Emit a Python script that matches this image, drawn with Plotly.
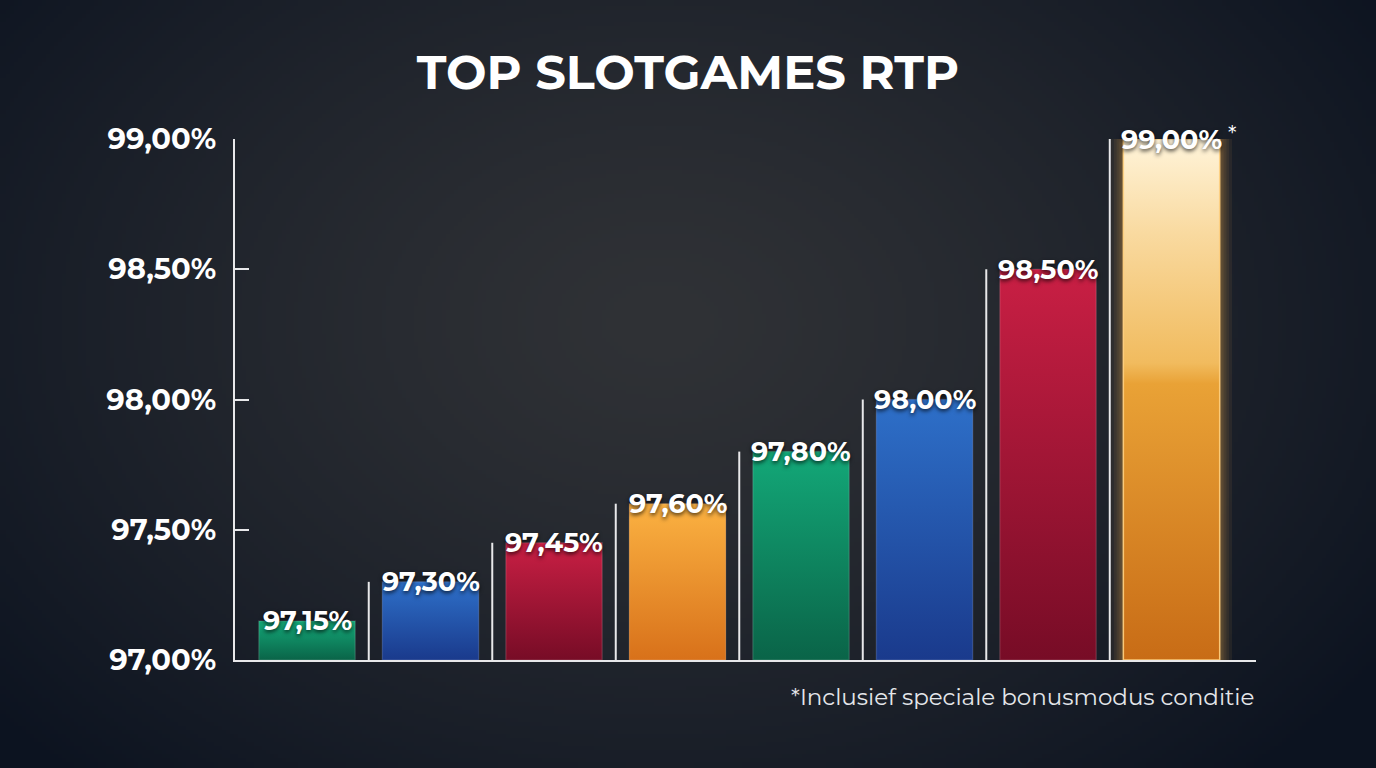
import base64, struct, zlib
import numpy as np
import plotly.graph_objects as go

# ---------------- data ----------------
games = ["Slot 1", "Slot 2", "Slot 3", "Slot 4", "Slot 5", "Slot 6", "Slot 7", "Slot 8"]
rtp = [97.15, 97.30, 97.45, 97.60, 97.80, 98.00, 98.50, 99.00]
top_colors = ["#14a878", "#2e70c9", "#c91f44", "#fbb242", "#13a878", "#2e70c9", "#c91f44", "#fff4da"]
bottom_colors = ["#0a6448", "#1a3a8c", "#770c26", "#d8711a", "#0a6448", "#1a3a8c", "#770c26", "#c86c16"]
y_ticks = [97.0, 97.5, 98.0, 98.5, 99.0]
title = "TOP SLOTGAMES RTP"
footnote = "*Inclusief speciale bonusmodus conditie"
star_index = 7

# ---------------- layout constants ----------------
W, H = 1376, 768
ML, MR, MT, MB = 235, 120, 139, 108
PW, PH = W - ML - MR, H - MT - MB
BAR_W = 0.78
BASE = 97.0
FONT_BOLD = "Montserrat, 'Open Sans', sans-serif"


def pct(v):
    return f"{v:.2f}".replace(".", ",") + "%"


def png_uri(arr):
    h, w, _ = arr.shape
    raw = b"".join(b"\x00" + arr[r].tobytes() for r in range(h))

    def chunk(tag, data):
        c = struct.pack(">I", len(data)) + tag + data
        return c + struct.pack(">I", zlib.crc32(tag + data) & 0xFFFFFFFF)

    png = b"\x89PNG\r\n\x1a\n" + chunk(b"IHDR", struct.pack(">IIBBBBB", w, h, 8, 2, 0, 0, 0))
    png += chunk(b"IDAT", zlib.compress(raw, 9)) + chunk(b"IEND", b"")
    return "data:image/png;base64," + base64.b64encode(png).decode()


# radial background
gw, gh = 344, 192
xx, yy = np.meshgrid(np.linspace(0, 1, gw), np.linspace(0, 1, gh))
d = np.sqrt(((xx - 0.48) / 0.64) ** 2 + ((yy - 0.42) / 0.82) ** 2)
t = np.clip(d, 0, 1) ** 1.3
center = np.array([48, 50, 54], float)
edge = np.array([12, 19, 32], float)
bg = (center[None, None, :] * (1 - t[..., None]) + edge[None, None, :] * t[..., None]).astype(np.uint8)
bg_uri = png_uri(bg)

fig = go.Figure()

xs = list(range(len(rtp)))

# base bars (solid colour underneath the gradient overlay)
fig.add_trace(go.Bar(x=xs, y=[v - BASE for v in rtp], base=BASE, width=BAR_W,
                     marker=dict(color=bottom_colors, line=dict(width=0)),
                     hoverinfo="skip", showlegend=False))

# glow around the highlighted bar
for pad in [0.10, 0.075, 0.055, 0.038, 0.024, 0.012]:
    i = star_index
    x0, x1 = i - BAR_W / 2 - pad, i + BAR_W / 2 + pad
    y1 = rtp[i] + pad * 0.25
    fig.add_trace(go.Scatter(x=[x0, x1, x1, x0, x0], y=[BASE, BASE, y1, y1, BASE],
                             mode="lines", fill="toself", line=dict(width=0),
                             fillcolor="rgba(255,190,90,0.07)", hoverinfo="skip",
                             showlegend=False))

# gradient overlays
for i, v in enumerate(rtp):
    x0, x1 = i - BAR_W / 2, i + BAR_W / 2
    if i == star_index:
        cs = [[0, bottom_colors[i]], [0.53, "#e9a236"], [0.57, "#f1bb5e"],
              [0.82, "#f9daa0"], [1, top_colors[i]]]
        lc = "rgba(255,210,130,0.9)"
    else:
        cs = [[0, bottom_colors[i]], [1, top_colors[i]]]
        lc = "rgba(255,255,255,0.12)"
    fig.add_trace(go.Scatter(x=[x0, x1, x1, x0, x0], y=[BASE, BASE, v, v, BASE],
                             mode="lines", fill="toself", line=dict(width=1.5, color=lc),
                             fillgradient=dict(type="vertical", colorscale=cs),
                             hoverinfo="skip", showlegend=False))

shapes = []
# separator guide lines left of each bar (reach that bar's value)
for i in range(1, len(rtp)):
    shapes.append(dict(type="line", xref="x", yref="y", x0=i - 0.5, x1=i - 0.5,
                       y0=BASE, y1=rtp[i], line=dict(color="#e8e8ea", width=2), layer="above"))

annotations = []
for i, v in enumerate(rtp):
    annotations.append(dict(x=i, y=v, xref="x", yref="y", text=pct(v), showarrow=False,
                            xanchor="center", yanchor="middle",
                            font=dict(family=FONT_BOLD, size=27, color="white", weight=700,
                                      shadow="0px 2px 4px rgba(0,0,0,0.75)")))
annotations.append(dict(x=star_index, y=rtp[star_index], xref="x", yref="y", text="*",
                        showarrow=False, xanchor="left", yanchor="middle", xshift=54, yshift=5,
                        font=dict(family=FONT_BOLD, size=22, color="white")))
annotations.append(dict(x=1, y=-(697 - 660) / PH, xref="paper", yref="paper", text=footnote,
                        showarrow=False, xanchor="right", yanchor="middle",
                        font=dict(family=FONT_BOLD, size=23, color="#e4e6ea", weight=400)))

fig.update_layout(
    width=W, height=H,
    margin=dict(l=ML, r=MR, t=MT, b=MB, autoexpand=False),
    paper_bgcolor="#0d1421", plot_bgcolor="rgba(0,0,0,0)",
    showlegend=False, hovermode=False,
    title=dict(text=title, x=0.5, xref="container", xanchor="center",
               y=1 - 72 / H, yref="container", yanchor="middle",
               font=dict(family=FONT_BOLD, size=48, color="white", weight=700)),
    images=[dict(source=bg_uri, xref="paper", yref="paper", x=-ML / PW, y=1 + MT / PH,
                 sizex=W / PW, sizey=H / PH, xanchor="left", yanchor="top",
                 sizing="stretch", layer="below")],
    shapes=shapes,
    annotations=annotations,
    xaxis=dict(range=[-0.583, len(rtp) - 1 + 0.684], showticklabels=False, showgrid=False,
               zeroline=False, showline=True, linecolor="#e8e8ea", linewidth=2, ticks=""),
    yaxis=dict(range=[y_ticks[0], y_ticks[-1]], tickvals=y_ticks,
               ticktext=[pct(v) for v in y_ticks], showgrid=False, zeroline=False,
               showline=True, linecolor="#e8e8ea", linewidth=2, ticks="inside", ticklen=14,
               tickwidth=2, tickcolor="#e8e8ea", ticklabelstandoff=11,
               tickfont=dict(family=FONT_BOLD, size=29, color="white", weight=700)),
)

fig.write_html("out.html", config={"displayModeBar": False},
               post_script="document.body.style.margin='0';document.body.style.background='#0d1421';")
